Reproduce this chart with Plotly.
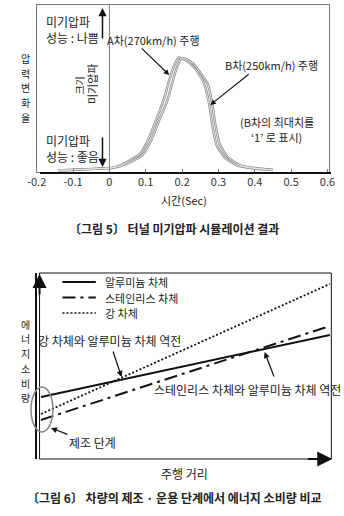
import plotly.graph_objects as go

W, H = 344, 516
FONT = "Noto Sans CJK KR"

# ---------------- data: figure 5 (micro-pressure wave) ----------------
time_ticks = [-0.2, -0.1, 0, 0.1, 0.2, 0.3, 0.4, 0.5, 0.6]
time_ticktext = ["-0.2", "-0.1", "0", "0.1", "0.2", "0.3", "0.4", "0.5", "0.6"]

carA_t = [-0.14, -0.08, -0.03, 0.005, 0.035, 0.085, 0.108, 0.13, 0.152, 0.162, 0.175, 0.19,
          0.2, 0.225, 0.25, 0.262, 0.275, 0.283, 0.295, 0.318, 0.352, 0.395, 0.45]
carA_y = [0.01, 0.015, 0.02, 0.025, 0.045, 0.11, 0.2, 0.32, 0.45, 0.53, 0.62, 0.685,
          0.68, 0.645, 0.575, 0.52, 0.40, 0.28, 0.16, 0.085, 0.04, 0.022, 0.012]

carB_t = [-0.14, -0.08, -0.03, 0.01, 0.04, 0.09, 0.115, 0.137, 0.16, 0.17, 0.183, 0.197,
          0.207, 0.23, 0.255, 0.27, 0.283, 0.291, 0.303, 0.325, 0.358, 0.40, 0.45]
carB_y = [0.01, 0.015, 0.02, 0.025, 0.042, 0.10, 0.19, 0.31, 0.43, 0.51, 0.61, 0.68,
          0.68, 0.65, 0.58, 0.53, 0.41, 0.29, 0.17, 0.09, 0.042, 0.024, 0.012]

# ---------------- data: figure 6 (energy consumption) ----------------
distance = [0.05, 9.95]
alu_energy = [3.33, 6.67]
sts_energy = [2.10, 7.15]
steel_energy = [2.42, 9.41]
series_names = ["알루미늄 차체", "스테인리스 차체", "강 차체"]
series_dash = ["solid", "13px,5px,3px,5px", "2px,2px"]


def PX(x):
    return x / W


def PY(y):
    return 1 - y / H


fig = go.Figure()

# top curves: hollow grey strokes
for t, y in [(carA_t, carA_y), (carB_t, carB_y)]:
    fig.add_trace(go.Scatter(x=t, y=y, mode="lines",
                             line=dict(color="#8c8c8c", width=2.4, shape="spline", smoothing=0.6),
                             showlegend=False, hoverinfo="skip", xaxis="x", yaxis="y"))
for t, y in [(carA_t, carA_y), (carB_t, carB_y)]:
    fig.add_trace(go.Scatter(x=t, y=y, mode="lines",
                             line=dict(color="#f6f6f6", width=0.8, shape="spline", smoothing=0.6),
                             showlegend=False, hoverinfo="skip", xaxis="x", yaxis="y"))

# bottom lines
for yv, nm, ds in zip([alu_energy, sts_energy, steel_energy], series_names, series_dash):
    fig.add_trace(go.Scatter(x=distance, y=yv, mode="lines", name=nm,
                             line=dict(color="#111", width=2 if ds != "2px,2px" else 1.8, dash=ds),
                             showlegend=False, xaxis="x2", yaxis="y2"))

top_x0, top_x1 = 28, 335
span = 381.25
fig.update_layout(
    width=W, height=H, margin=dict(l=0, r=0, t=0, b=0),
    paper_bgcolor="white", plot_bgcolor="white",
    font=dict(family=FONT, color="#222", size=11),
    xaxis=dict(domain=[PX(top_x0), PX(top_x1)], range=[-0.2, 0.6 + 2 / span],
               tickvals=time_ticks, ticktext=time_ticktext, ticks="inside", ticklen=3, tickcolor="#777",
               showline=True, linecolor="#777", linewidth=1, mirror=True, showgrid=False, zeroline=False,
               tickfont=dict(size=11, color="#333"), fixedrange=True),
    yaxis=dict(domain=[PY(172), PY(5)], range=[0, 1], showticklabels=False, ticks="",
               showline=True, linecolor="#777", linewidth=1, mirror=True, showgrid=False, zeroline=False),
    xaxis2=dict(domain=[PX(31), PX(337)], range=[0, 10], showticklabels=False, ticks="",
                showline=True, linecolor="#111", linewidth=2, showgrid=False, zeroline=False),
    yaxis2=dict(domain=[PY(459), PY(273)], range=[0, 10], showticklabels=False, ticks="",
                showline=True, linecolor="#111", linewidth=2, showgrid=False, zeroline=False),
    showlegend=False,
)

shapes = [
    # t = 0 vertical line in top chart
    dict(type="line", xref="x", yref="y domain", x0=0, x1=0, y0=0, y1=1, line=dict(color="#777", width=1)),
    # bottom box (thin top/right)
    dict(type="rect", xref="paper", yref="paper", x0=PX(31), x1=PX(337), y0=PY(459), y1=PY(273),
         line=dict(color="#111", width=1)),
    # manufacturing-stage ellipse
    dict(type="circle", xref="paper", yref="paper", x0=PX(22), x1=PX(45), y0=PY(432), y1=PY(387),
         line=dict(color="#888", width=1.5)),
]
# legend samples (bottom chart)
legend_rows = [282, 297.5, 313]
for ry, ds in zip(legend_rows, series_dash):
    shapes.append(dict(type="line", xref="paper", yref="paper", x0=PX(55), x1=PX(90), y0=PY(ry), y1=PY(ry),
                       line=dict(color="#111", width=2 if ds != "2px,2px" else 1.6, dash=ds)))
fig.update_layout(shapes=shapes)

ann = []


def text(x, y, s, size=11, angle=0, bold=False, color="#222", align="center", xanchor="center"):
    ann.append(dict(x=PX(x), y=PY(y), xref="paper", yref="paper", text=(f"<b>{s}</b>" if bold else s),
                    showarrow=False, textangle=angle, align=align, xanchor=xanchor, yanchor="middle",
                    font=dict(family=FONT, size=size, color=color)))


def arrow(tipx, tipy, tailx, taily, width=1.2, head=2, size=1.0, color="#111"):
    ann.append(dict(x=PX(tipx), y=PY(tipy), xref="paper", yref="paper", text="", showarrow=True,
                    ax=tailx - tipx, ay=taily - tipy, arrowhead=head, arrowsize=size, arrowwidth=width,
                    arrowcolor=color, standoff=0))


def vtext(x, ycenter, s, size=10, step=14.7):
    n = len(s)
    for i, ch in enumerate(s):
        text(x, ycenter + (i - (n - 1) / 2) * step, ch, size=size, xanchor="left")


# legend texts
for ry, nm in zip(legend_rows, series_names):
    text(98, ry, nm, size=11, align="left", xanchor="left")

# ---- top chart texts ----
vtext(9, 88, "압력변화율")
text(36, 30, "미기압파<br>성능 : 나쁨", size=12, align="left", xanchor="left")
text(36, 148, "미기압파<br>성능 : 좋음", size=12, align="left", xanchor="left")
arrow(97, 8, 97, 40, width=1.5, head=2, size=1.1)
arrow(97, 167, 97, 136, width=1.5, head=2, size=1.1)
text(86, 84, "미기압파", size=11, angle=-90)
text(73, 86, "크기", size=10, angle=-90)
text(150, 40, "A차(270km/h) 주행", size=11)
arrow(167, 75, 138, 47, width=1.1)
text(274, 65, "B차(250km/h) 주행", size=11)
arrow(210, 105, 250, 73, width=1.1)
text(280, 122, "(B차의 최대치를", size=11)
text(280, 137, "‘1’ 로 표시)", size=11)
text(183, 200, "시간(Sec)", size=11)
text(172, 228, "〔그림 5〕 터널 미기압파 시뮬레이션 결과", size=12, bold=True)

# ---- bottom chart texts ----
arrow(31, 274, 31, 296, width=2, head=2, size=1.4)
arrow(338, 459, 312, 459, width=2, head=2, size=1.5)
vtext(9, 361, "에너지소비량")
text(104, 340, "강 차체와 알루미늄 차체 역전", size=12)
arrow(117, 377, 108, 350, width=1.2)
text(249, 389, "스테인리스 차체와 알루미늄 차체 역전", size=12)
arrow(267, 352, 277, 378, width=1.2)
arrow(43, 428, 61, 435, width=1.2)
text(86, 442, "제조 단계", size=12)
text(183, 473, "주행 거리", size=12)
text(172, 497, "〔그림 6〕 차량의 제조 · 운용 단계에서 에너지 소비량 비교", size=12, bold=True)

fig.update_layout(annotations=ann)
fig.write_html("out.html")
